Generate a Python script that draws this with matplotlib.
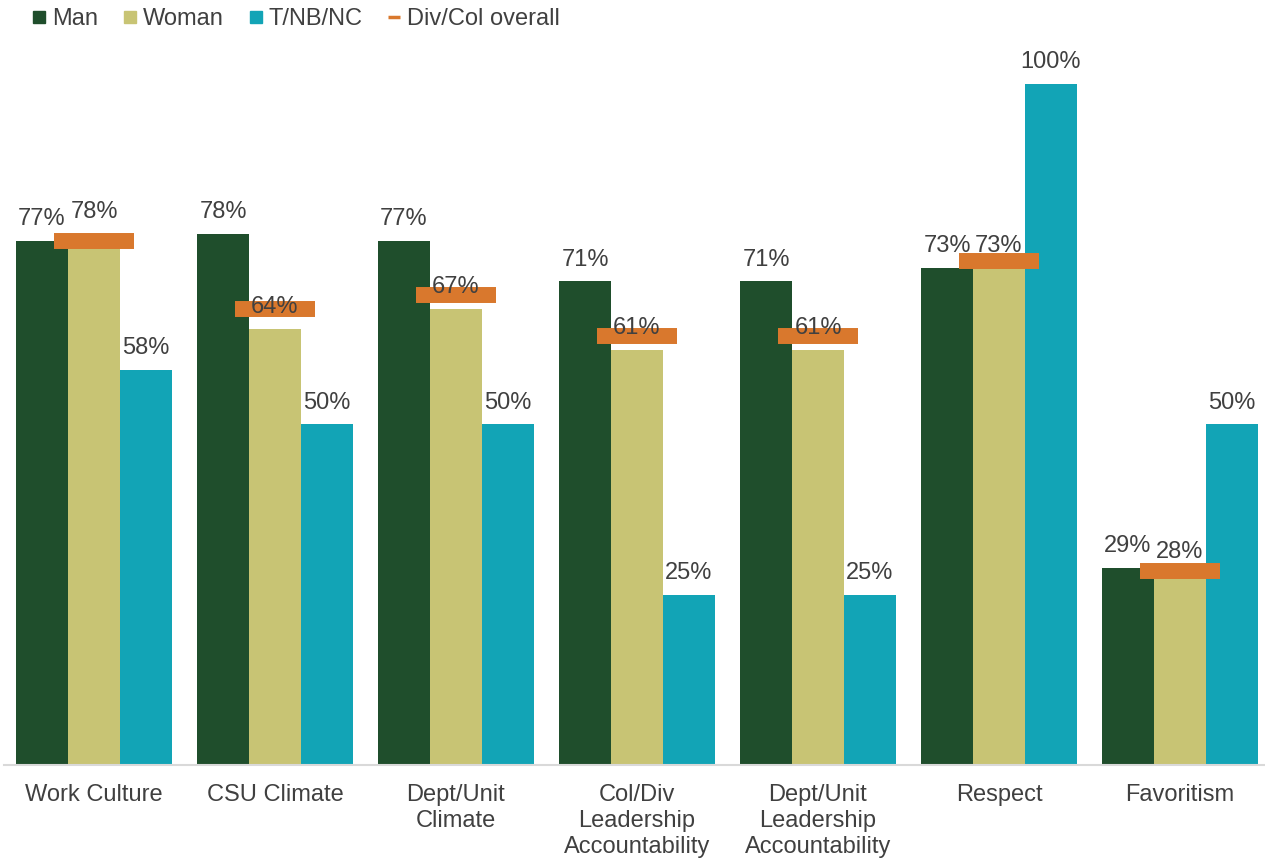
import numpy as np
import matplotlib.pyplot as plt
from matplotlib.lines import Line2D

categories = ['Work Culture', 'CSU Climate', 'Dept/Unit\nClimate',
              'Col/Div\nLeadership\nAccountability',
              'Dept/Unit\nLeadership\nAccountability', 'Respect', 'Favoritism']
man = [77, 78, 77, 71, 71, 73, 29]
woman = [78, 64, 67, 61, 61, 73, 28]
tnbnc = [58, 50, 50, 25, 25, 100, 50]
overall = [77, 67, 69, 63, 63, 74, 28.5]

plt.rcParams['font.family'] = ['Liberation Sans', 'DejaVu Sans']
txt = '#404040'
c_man, c_woman, c_t, c_all = '#1F4E2C', '#C8C474', '#12A4B6', '#D9782D'

fig = plt.figure(figsize=(12.65, 8.63), dpi=100)
ax = fig.add_axes([3.5 / 1265, 1 - 765 / 863, 1267 / 1265, 681 / 863])

x = np.arange(len(categories))
w = 0.287
series = [(man, c_man, -w), (woman, c_woman, 0), (tnbnc, c_t, w)]
for vals, col, off in series:
    ax.bar(x + off, vals, w, color=col, zorder=2)

# overall division/college value as a thick dash across the middle bar
ax.hlines(overall, x - 0.221, x + 0.221, colors=c_all, lw=11.5,
          capstyle='butt', zorder=3)

for vals, col, off in series:
    for xi, v in zip(x, vals):
        ax.annotate(f'{v}%', (xi + off, v), xytext=(0, 11.5),
                    textcoords='offset points', ha='center', va='baseline',
                    fontsize=17, color=txt, zorder=4)

ax.set_xlim(-0.5, 6.5)
ax.set_ylim(0, 100)
ax.set_xticks(x)
ax.set_xticklabels(categories, fontsize=17, color=txt, linespacing=1.23)
ax.tick_params(axis='x', length=0, pad=14)
ax.set_yticks([])
for s in ['top', 'left', 'right']:
    ax.spines[s].set_visible(False)
ax.spines['bottom'].set_color('#D9D9D9')
ax.spines['bottom'].set_linewidth(1.5)
ax.spines['bottom'].set_zorder(5)

handles = [
    Line2D([], [], ls='none', marker='s', ms=8, color=c_man),
    Line2D([], [], ls='none', marker='s', ms=8, color=c_woman),
    Line2D([], [], ls='none', marker='s', ms=8, color=c_t),
    Line2D([], [], ls='none', marker='_', ms=8.5, mew=2.5, color=c_all),
]
fig.legend(handles, ['Man', 'Woman', 'T/NB/NC', 'Div/Col overall'],
           loc='upper left', bbox_to_anchor=(33 / 1265, 1 - 8 / 863),
           ncol=4, frameon=False, fontsize=17, labelcolor=txt,
           handlelength=0.5, handletextpad=0.3, columnspacing=1.1,
           borderpad=0, borderaxespad=0)

fig.savefig('out.png', dpi=100)
